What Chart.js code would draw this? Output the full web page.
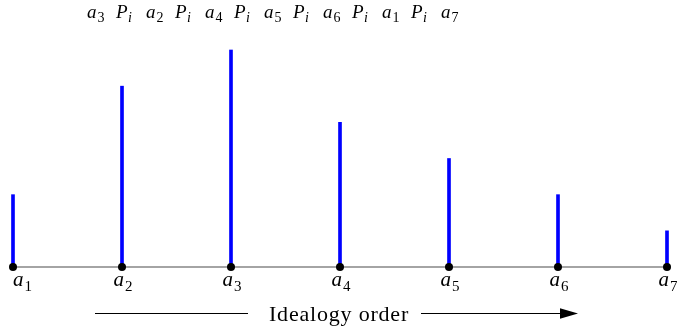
<!DOCTYPE html>
<html><head><meta charset="utf-8">
<script src="https://cdn.jsdelivr.net/npm/chart.js@4/dist/chart.umd.min.js"></script>
<style>html,body{margin:0;padding:0;background:#fff;}#c{display:block;}</style>
</head><body>
<div style="width:677px;height:334px;"><canvas id="c" width="677" height="334"></canvas></div>
<script>
const categories = ['a1','a2','a3','a4','a5','a6','a7'];
const positions = [1,2,3,4,5,6,7];
const values = [2,5,6,4,3,2,1];
const preferenceOrder = ['a3','a2','a4','a5','a6','a1','a7'];
const relationSymbol = ['P','i'];
const axisTitle = 'Idealogy order';

const SERIF = '"Liberation Serif","DejaVu Serif",serif';

function drawSub(ctx, base, sub, x, y, size, subItalic) {
  ctx.font = 'italic ' + size + 'px ' + SERIF;
  const w1 = ctx.measureText(base).width;
  ctx.fillText(base, x, y);
  ctx.font = (subItalic ? 'italic ' : '') + Math.round(size * 0.72) + 'px ' + SERIF;
  const w2 = ctx.measureText(sub).width;
  ctx.fillText(sub, x + w1 + (subItalic ? 0.5 : 1), y + size * 0.22);
  return w1 + w2 + 1;
}

const decor = {
  id: 'decor',
  beforeDatasetsDraw(chart) {
    const ctx = chart.ctx, xs = chart.scales.x, ys = chart.scales.y;
    const y0 = ys.getPixelForValue(0);
    ctx.save();
    ctx.strokeStyle = '#4a4a4a';
    ctx.lineWidth = 1.2;
    ctx.beginPath();
    ctx.moveTo(xs.getPixelForValue(positions[0]), y0);
    ctx.lineTo(xs.getPixelForValue(positions[positions.length - 1]), y0);
    ctx.stroke();
    ctx.restore();
  },
  afterDraw(chart) {
    const ctx = chart.ctx, xs = chart.scales.x, ys = chart.scales.y;
    const y0 = ys.getPixelForValue(0);
    ctx.save();
    ctx.fillStyle = '#000';
    ctx.textBaseline = 'alphabetic';
    ctx.textAlign = 'left';
    // category labels
    const size = 21;
    categories.forEach((c, i) => {
      const px = xs.getPixelForValue(positions[i]);
      let x = px - 8.5;
      if (i === 0) x = px;
      drawSub(ctx, c[0], c.slice(1), x, y0 + 19, size, false);
    });
    // title: preference order
    const ts = 19;
    const start = 87, period = 59, ty = 18;
    preferenceOrder.forEach((c, i) => {
      drawSub(ctx, c[0], c.slice(1), start + period * i, ty, ts, false);
      if (i < preferenceOrder.length - 1) {
        drawSub(ctx, relationSymbol[0], relationSymbol[1], start + period * i + 29, ty, ts, true);
      }
    });
    // axis title with arrow
    ctx.font = '22px ' + SERIF;
    ctx.letterSpacing = '0.8px';
    ctx.textAlign = 'center';
    ctx.fillText(axisTitle, 339, 321);
    ctx.letterSpacing = '0px';
    ctx.strokeStyle = '#000';
    ctx.lineWidth = 1;
    ctx.beginPath();
    ctx.moveTo(95, 313.5); ctx.lineTo(248, 313.5);
    ctx.moveTo(421, 313.5); ctx.lineTo(563, 313.5);
    ctx.stroke();
    ctx.beginPath();
    ctx.moveTo(578, 313.5); ctx.lineTo(560, 308.3); ctx.lineTo(560, 318.7); ctx.closePath();
    ctx.fill();
    ctx.restore();
  }
};

new Chart(document.getElementById('c'), {
  type: 'bar',
  data: {
    datasets: [
      {
        type: 'scatter',
        data: positions.map(p => ({x: p, y: 0})),
        pointRadius: 4,
        pointBackgroundColor: '#000',
        pointBorderColor: '#000',
        pointBorderWidth: 0,
        clip: false,
        order: 0
      },
      {
        type: 'bar',
        data: positions.map((p, i) => ({x: p, y: values[i]})),
        backgroundColor: '#0000ff',
        borderWidth: 0,
        barThickness: 3,
        clip: false,
        order: 1
      }
    ]
  },
  options: {
    responsive: false,
    animation: false,
    layout: { padding: { left: 13, right: 10, top: 50, bottom: 67 } },
    plugins: { legend: { display: false }, tooltip: { enabled: false }, title: { display: false } },
    scales: {
      x: { type: 'linear', min: 1, max: 7, display: false, offset: false },
      y: { min: 0, max: 6, display: false }
    }
  },
  plugins: [decor]
});
</script>
</body></html>
